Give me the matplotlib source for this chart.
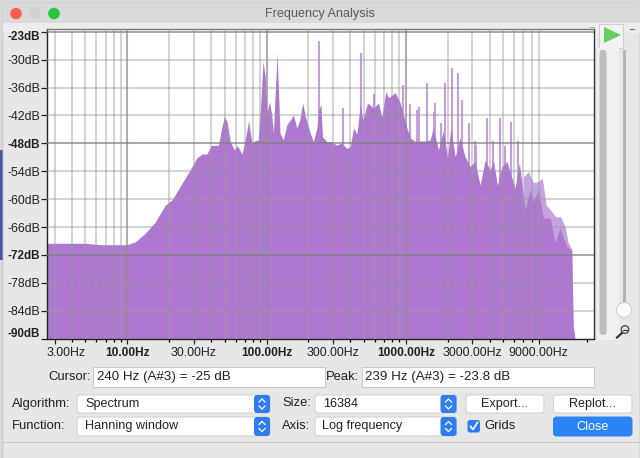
import matplotlib
matplotlib.use("Agg")
import matplotlib.pyplot as plt
from matplotlib.patches import FancyBboxPatch, Rectangle, Circle, Polygon
from matplotlib.transforms import ScaledTranslation

plt.rcParams['font.family'] = ['Liberation Sans', 'DejaVu Sans']

# ---- data ----
body_hz = [2.65, 5.0, 6.4, 10, 11.4, 13.5, 15.9, 18.7, 20.9, 28.3, 31.6, 34.4, 37.3, 39.9, 45.2, 47.1, 49.7, 52, 54.9,
           58.6, 61.9, 66.6, 70.3, 74.3, 78.5, 83, 87.1, 90.1, 94.2, 97.9, 100.7, 105, 109, 112, 116, 119, 122, 125,
           132, 140, 148, 156, 165, 173, 182, 190, 206, 217, 230, 236, 246, 252, 271, 291, 320, 344, 378, 399, 422,
           446, 471, 492, 531, 586, 637, 673, 720, 752, 840, 912, 1019, 1076, 1167, 1227, 1355, 1496, 1574, 1718,
           1866, 1991, 2109, 2265, 2456, 2667, 2897, 3147, 3420, 3715, 4036, 4260, 4550, 4893, 5317, 6100, 6547,
           7194, 7816, 8222, 8974, 9733, 10890, 11810, 12820, 14350, 15560, 15990, 16370, 16400]
body_db = [-69.5, -69.5, -69.8, -69.8, -69.2, -67.3, -64.9, -61.3, -60.2, -53.7, -51.1, -50.3, -50.3, -48.5, -48.4,
           -45.5, -42.3, -43.3, -47.6, -49.4, -48.5, -50.3, -47.3, -43.1, -47.9, -47.4, -47.3, -41.5, -30.4, -33.7,
           -41.5, -39, -41.9, -45.8, -35.8, -28.6, -37.2, -45.8, -47.3, -44, -43, -41.9, -44.7, -43, -39.3, -42.3,
           -45.8, -47.6, -44.7, -40.8, -39.7, -46.6, -47.6, -47.6, -48.4, -47.9, -49.1, -48.7, -44.7, -46, -39.7,
           -43, -39.3, -40.4, -39.3, -42.3, -36.9, -38.2, -37.1, -39.3, -44.7, -46.8, -47.6, -47.5, -47.5, -47.3,
           -44.7, -49.4, -45.1, -51.1, -44.7, -50.9, -46.8, -50.9, -53, -51.9, -57, -51.6, -53.7, -51.6, -57, -53.1,
           -51.9, -57.6, -52.2, -62.3, -58, -60.6, -58, -64.1, -64.1, -69.4, -66.2, -70.2, -70.9, -87.4, -89.6, -90]
spike_hz = [240, 357, 479, 596, 953, 1081, 1202, 1253, 1416, 1600, 1625, 1795, 1899, 2143, 2388, 2523, 2864, 3147,
            3184, 3820, 4266, 4764, 5176, 5715, 6380]
spike_db = [-26, -40.4, -28.6, -37.4, -35.4, -39.6, -40.8, -40.2, -35.1, -41.2, -39.3, -43.7, -35.1, -31.7, -32.9,
            -38.7, -43.6, -47.4, -48.4, -42.5, -47.6, -42.5, -48.6, -43.3, -47.4]
halo_hz = [6998, 7600, 8260, 8974, 9570, 10190, 11200, 11940, 12970, 13930, 14650, 15560]
halo_db = [-55.2, -54.1, -56.5, -56.2, -55.5, -61.3, -62.7, -63.8, -63.8, -65.9, -69.2, -70.9]
db_ticks = [-24, -30, -36, -42, -48, -54, -60, -66, -72, -78, -84, -90]
db_labels = ['-23dB', '-30dB', '-36dB', '-42dB', '-48dB', '-54dB', '-60dB', '-66dB', '-72dB', '-78dB', '-84dB', '-90dB']
db_bold = ['-23dB', '-48dB', '-72dB', '-90dB']
hz_ticks = [3, 10, 30, 100, 300, 1000, 3000, 9000]
hz_labels = ['3.00Hz', '10.00Hz', '30.00Hz', '100.00Hz', '300.00Hz', '1000.00Hz', '3000.00Hz', '9000.00Hz']
hz_bold = ['10.00Hz', '100.00Hz', '1000.00Hz']
minor_hz = [4, 5, 6, 7, 8, 9, 20, 40, 50, 60, 70, 80, 90, 200, 400, 500, 600, 700, 800, 900,
            2000, 4000, 5000, 6000, 7000, 8000, 20000]
decade_hz = [10, 100, 1000]
grid_skip_hz = [20000]
dark_db = [-24, -48, -72]

W, H = 640, 458
fig = plt.figure(figsize=(W / 100, H / 100), dpi=100, facecolor='#d9d9d9')

# ---- window chrome, in pixels ----
ui = fig.add_axes([0, 0, 1, 1], zorder=0)
ui.set_xlim(0, W)
ui.set_ylim(H, 0)
ui.axis('off')
ui.add_patch(Rectangle((0, 150), 4, 110, fc='#4a55a8', ec='none'))
ui.add_patch(FancyBboxPatch((3, 3), 637, 470, boxstyle='round,pad=0,rounding_size=6', fc='#e7e7e7', ec='#c4c4c4', lw=.6))
ui.add_patch(FancyBboxPatch((3, 3), 637, 30, boxstyle='round,pad=0,rounding_size=6', fc='#d9d9d9', ec='none'))
ui.add_patch(Rectangle((3, 23), 637, 10, fc='#ececec', ec='none'))
ui.add_patch(Rectangle((3, 442), 637, 1, fc='#c8c8c8', ec='none'))
for cx, col in [(16, '#fc5b57'), (35, '#cfcfcf'), (54, '#2bc33f')]:
    ui.add_patch(Circle((cx, 13.5), 5.8, fc=col, ec='none'))
ui.text(320, 13.5, 'Frequency Analysis', ha='center', va='center', fontsize=9.1, color='#5a5a5a')

# play button, scrollbars
ui.add_patch(Rectangle((588, 24), 9, 24, fc='#efefef', ec='none'))
for gy in range(27, 46, 3):
    ui.add_patch(Rectangle((590, gy), 5, 1, fc='#a8a8a8', ec='none'))
ui.add_patch(Rectangle((599, 24), 24, 24, fc='#f3f3f3', ec='#c8c8c8', lw=.6))
ui.add_patch(Polygon([(604, 27), (604, 43), (621, 35)], fc='#66cc66', ec='none'))
ui.add_patch(Rectangle((597, 48), 22, 292, fc='#f0f0f0', ec='none'))
ui.add_patch(FancyBboxPatch((599.5, 50), 7, 285, boxstyle='round,pad=0,rounding_size=3', fc='#bdbdbd', ec='none'))
ui.add_patch(Rectangle((623, 50), 2.5, 255, fc='#b4b4b4', ec='none'))
ui.add_patch(Circle((624, 310), 7.5, fc='#fbfbfb', ec='#c9c9c9', lw=.6, zorder=3))
ui.add_patch(Circle((625, 329.5), 3.8, fc='#dfe3f0', ec='#444444', lw=.9))
ui.plot([622, 617], [333, 337.5], color='#333333', lw=1.6)
ui.plot([623, 627], [329.5, 329.5], color='#2a2a8a', lw=.8)
ui.plot([630, 634], [29, 29], color='#777777', lw=.8)

FS = 9.4
FIELD_FS = 9.6
POP_FS = 9.1
def label(x, y, s, ha='left', color='#222222', weight='normal', size=FS):
    ui.text(x, y, s, ha=ha, va='center', fontsize=size, color=color, fontweight=weight)

def field(x0, x1, y0, y1, s, tx):
    ui.add_patch(Rectangle((x0, y0), x1 - x0, y1 - y0, fc='white', ec='#c9c9c9', lw=.7))
    label(tx, (y0 + y1) / 2, s, size=FIELD_FS)

def popup(x0, x1, y0, y1, s, tx):
    ui.add_patch(FancyBboxPatch((x0, y0), x1 - x0, y1 - y0, boxstyle='round,pad=0,rounding_size=3', fc='white', ec='#cfcfcf', lw=.7))
    ui.add_patch(FancyBboxPatch((x1 - 16, y0), 16, y1 - y0, boxstyle='round,pad=0,rounding_size=3', fc='#2f7df0', ec='none'))
    cx, cy = x1 - 8, (y0 + y1) / 2
    ui.plot([cx - 3, cx, cx + 3], [cy - 2, cy - 5, cy - 2], color='white', lw=.9)
    ui.plot([cx - 3, cx, cx + 3], [cy + 2, cy + 5, cy + 2], color='white', lw=.9)
    label(tx, (y0 + y1) / 2, s, size=POP_FS)

def button(x0, x1, y0, y1, s, fc='white', color='#222222', ec='#cfcfcf'):
    ui.add_patch(FancyBboxPatch((x0, y0), x1 - x0, y1 - y0, boxstyle='round,pad=0,rounding_size=3', fc=fc, ec=ec, lw=.7))
    label((x0 + x1) / 2, (y0 + y1) / 2, s, ha='center', color=color, size=POP_FS)

label(90.5, 377.5, 'Cursor:', ha='right')
field(93, 324.5, 367, 387, '240 Hz (A#3) = -25 dB', 97)
label(359, 377.5, 'Peak:', ha='right')
field(361.5, 594, 367, 387, '239 Hz (A#3) = -23.8 dB', 365)
label(12, 403.5, 'Algorithm:')
popup(77, 270, 395, 413, 'Spectrum', 85)
label(12, 426, 'Function:')
popup(77, 270, 417, 436, 'Hanning window', 85)
label(282, 403.5, 'Size:')
popup(315, 456.5, 395, 413, '16384', 323)
label(282, 426, 'Axis:')
popup(315, 456.5, 417, 436, 'Log frequency', 322.5)
button(466, 544, 395, 413, 'Export...')
button(553.5, 632, 395, 413, 'Replot...')
button(553.5, 632, 417, 436, 'Close', fc='#2b83f6', color='white', ec='#2b83f6')
ui.add_patch(FancyBboxPatch((467.5, 420), 12.5, 12.5, boxstyle='round,pad=0,rounding_size=2.5', fc='#2f7df0', ec='none'))
ui.plot([470.5, 473, 477.5], [426.5, 429.5, 422.5], color='white', lw=1.2)
label(484.5, 426, 'Grids')

# ---- the chart ----
ax = fig.add_axes([47 / W, 1 - 338.6 / H, (594.3 - 47) / W, (338.6 - 29) / H], zorder=1)
ax.set_xscale('log')
ax.set_xlim(2.65, 22600)
ax.set_ylim(-90, -23.4)
ax.set_facecolor('white')

fill = '#ae78d1'
ax.fill_between(halo_hz, halo_db, -90, color='#c6a2df', lw=0, zorder=1.4)
ax.vlines(spike_hz, -90, spike_db, color='#c39fdd', lw=1.5, zorder=1.5)
ax.fill_between(body_hz, body_db, -90, color=fill, lw=0, zorder=2)

all_grid = hz_ticks + minor_hz
for f in all_grid:
    if f in grid_skip_hz:
        continue
    dark = f in decade_hz
    ax.axvline(f, color='#8c8c8c' if dark else '#9a9a9a', alpha=.7 if dark else .42, lw=1.5, zorder=3)
for d in db_ticks[:-1]:
    dark = d in dark_db
    ax.axhline(d, color='#7f7f7f' if dark else '#9a9a9a', alpha=.8 if dark else .42, lw=1.5 if not dark else 1.2, zorder=3)

ax.set_yticks(db_ticks)
ax.set_yticklabels(db_labels)
ax.set_xticks(hz_ticks)
ax.set_xticklabels(hz_labels)
ax.set_xticks(minor_hz, minor=True)
ax.xaxis.set_minor_formatter(plt.NullFormatter())
ax.tick_params(axis='y', length=4.3, width=.9, pad=.8, labelsize=8.9, colors='#222222')
ax.tick_params(axis='x', which='major', length=3.8, width=.9, pad=2, labelsize=8.9, colors='#222222')
ax.tick_params(axis='x', which='minor', length=2.4, width=.9)
ax.spines['top'].set_color('#777777')
ax.spines['right'].set_color('#333333')
ax.spines['left'].set_color('#222222')
ax.spines['bottom'].set_color('#222222')
for s in ax.spines.values():
    s.set_linewidth(1.0)

def shift(t, dx, dy):
    t.set_transform(t.get_transform() + ScaledTranslation(dx / 100, dy / 100, fig.dpi_scale_trans))

for t in ax.get_yticklabels():
    if t.get_text() in db_bold:
        t.set_fontweight('bold')
        t.set_fontsize(8.4)
    if t.get_text() == '-23dB':
        shift(t, 0, -4)
    if t.get_text() == '-90dB':
        shift(t, 0, 6)
for t in ax.get_xticklabels():
    if t.get_text() in hz_bold:
        t.set_fontweight('bold')
        t.set_fontsize(8.6)
    if t.get_text() == '3.00Hz':
        shift(t, 12, 0)

fig.savefig('out.png', dpi=100, facecolor=fig.get_facecolor())
